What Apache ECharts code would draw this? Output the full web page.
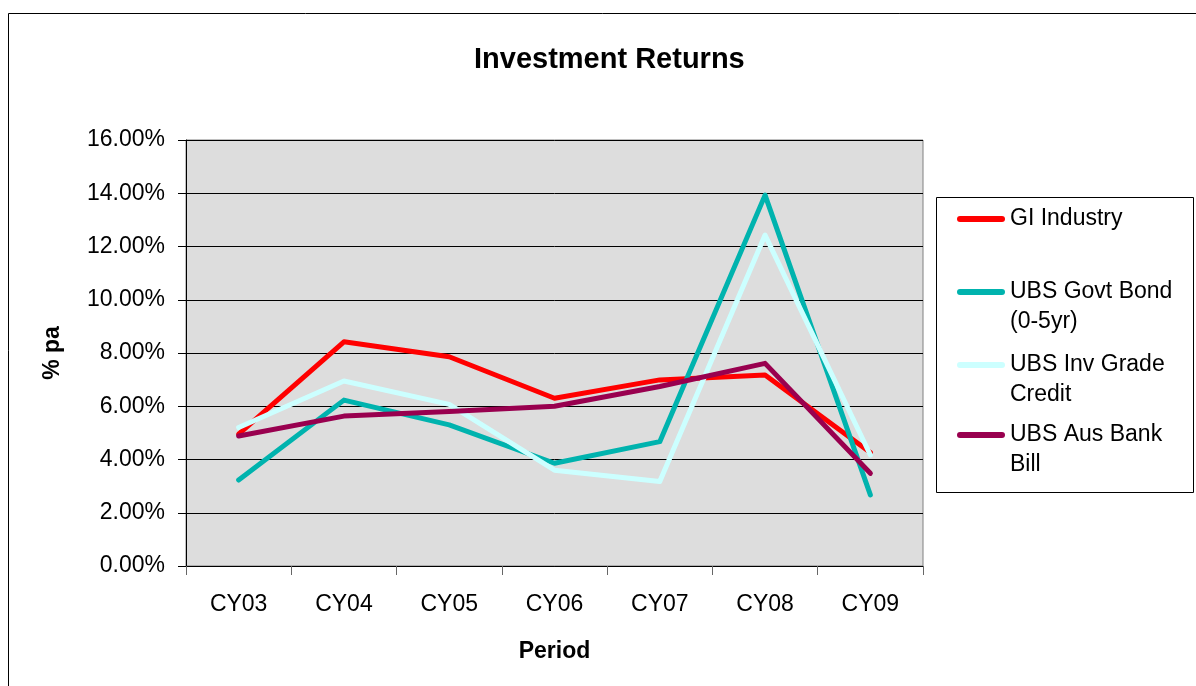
<!DOCTYPE html>
<html>
<head>
<meta charset="utf-8">
<script src="https://cdn.jsdelivr.net/npm/echarts@6/dist/echarts.min.js"></script>
<style>
html,body{margin:0;padding:0;background:#fff;}
#chart{width:1196px;height:686px;}
</style>
</head>
<body>
<div id="chart"></div>
<script>
const categories = ['CY03','CY04','CY05','CY06','CY07','CY08','CY09'];
const seriesNames = ['GI Industry','UBS Govt Bond\n(0-5yr)','UBS Inv Grade\nCredit','UBS Aus Bank\nBill'];
const giIndustry = [4.95, 8.42, 7.86, 6.30, 6.99, 7.17, 4.26];
const govtBond   = [3.23, 6.23, 5.30, 3.86, 4.67, 13.93, 2.67];
const invGrade   = [5.20, 6.95, 6.07, 3.60, 3.17, 12.43, 4.17];
const ausBankBill= [4.88, 5.63, 5.80, 6.00, 6.74, 7.61, 3.48];
const yTicks = {min: 0, max: 16, interval: 2};

const colors = ['#ff0000','#00b3ae','#ccffff','#99004f'];
const seriesData = [giIndustry, govtBond, invGrade, ausBankBill];
const FONT = '"Liberation Sans", Arial, sans-serif';

const chart = echarts.init(document.getElementById('chart'));

const legendTops = [204, 247, 320, 390];
const legends = seriesNames.map((n, i) => ({
  data: [n],
  left: 957,
  top: legendTops[i],
  padding: 0,
  itemWidth: 48,
  itemHeight: 6,
  icon: 'path://M3,0H45A3,3,0,0,1,45,6H3A3,3,0,0,1,3,0Z',
  selectedMode: false,
  formatter: name => (name.indexOf('\n') >= 0 ? '\n' + name : name),
  textStyle: {
    fontFamily: FONT, fontSize: 23, color: '#000', lineHeight: 30
  }
}));

chart.setOption({
  animation: false,
  backgroundColor: '#fff',
  title: {
    text: 'Investment Returns',
    left: 469, top: 40,
    textStyle: {fontFamily: FONT, fontSize: 29, fontWeight: 'bold', color: '#000'}
  },
  legend: legends,
  grid: {
    left: 186, right: 273, top: 140, bottom: 120,
    show: true, backgroundColor: '#dddddd', borderColor: '#808080', borderWidth: 1
  },
  xAxis: {
    type: 'category',
    data: categories,
    boundaryGap: true,
    name: 'Period',
    nameLocation: 'middle',
    nameGap: 74,
    nameTextStyle: {fontFamily: FONT, fontSize: 23, fontWeight: 'bold', color: '#000'},
    axisLine: {lineStyle: {color: '#000', width: 1}},
    axisTick: {show: true, length: 9, lineStyle: {color: '#666'}},
    axisLabel: {fontFamily: FONT, fontSize: 23, color: '#000', margin: 27},
    splitLine: {show: false}
  },
  yAxis: {
    type: 'value',
    min: yTicks.min, max: yTicks.max, interval: yTicks.interval,
    name: '% pa',
    nameLocation: 'middle',
    nameGap: 122,
    nameRotate: 90,
    nameTextStyle: {fontFamily: FONT, fontSize: 23, fontWeight: 'bold', color: '#000'},
    axisLine: {show: true, lineStyle: {color: '#000', width: 1}},
    axisTick: {show: true, length: 8, lineStyle: {color: '#000'}},
    axisLabel: {fontFamily: FONT, fontSize: 23, color: '#000', margin: 21,
      formatter: v => v.toFixed(2) + '%'},
    splitLine: {show: true, lineStyle: {color: '#000', width: 1}}
  },
  graphic: [
    {type: 'rect', z: -10, shape: {x: 8.5, y: 13.5, width: 1200, height: 700},
      style: {fill: 'none', stroke: '#000', lineWidth: 1}},
    {type: 'rect', z: 10, shape: {x: 936.5, y: 197.5, width: 257, height: 295},
      style: {fill: 'none', stroke: '#000', lineWidth: 1}}
  ],
  series: seriesNames.map((n, i) => ({
    name: n,
    type: 'line',
    data: seriesData[i],
    showSymbol: false,
    symbol: 'none',
    lineStyle: {color: colors[i], width: 5, cap: 'round', join: 'round'},
    itemStyle: {color: colors[i]},
    emphasis: {disabled: true}
  }))
});
</script>
</body>
</html>
